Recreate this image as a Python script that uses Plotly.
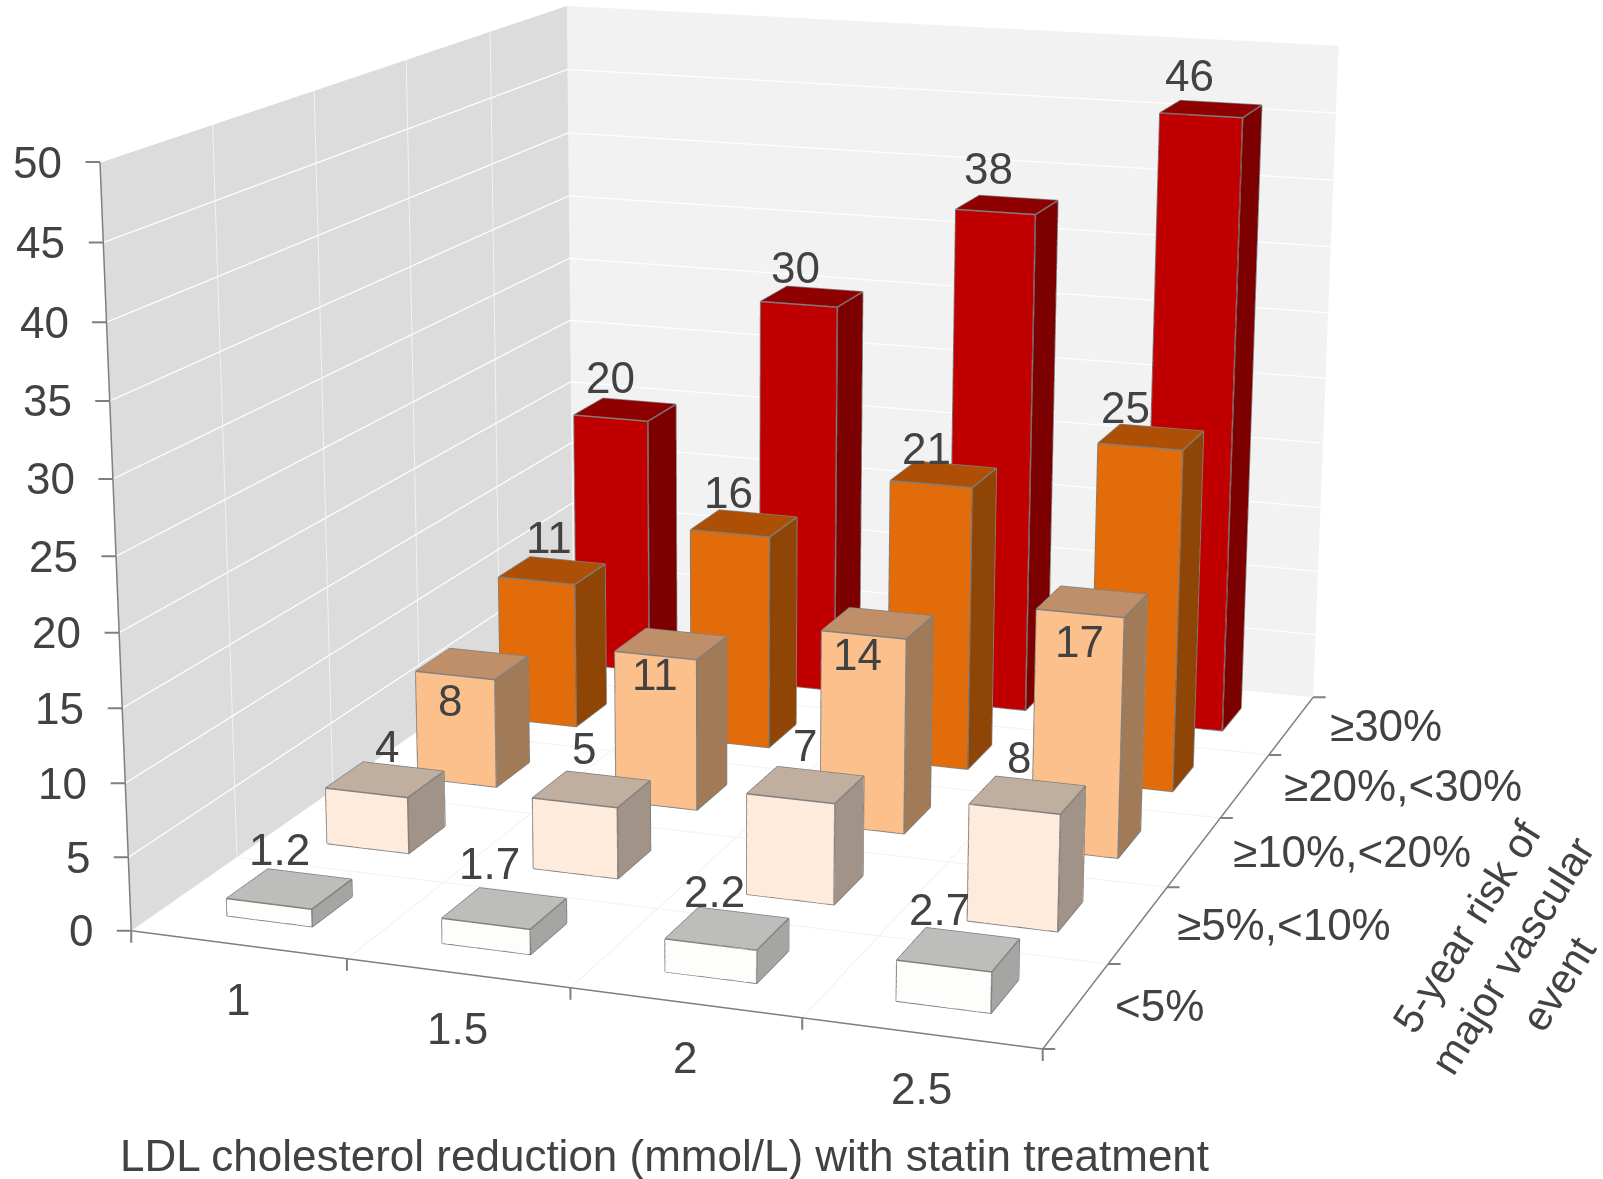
import numpy as np
import plotly.graph_objects as go

ldl_labels = ["1", "1.5", "2", "2.5"]
risk_labels = ["<5%", "≥5%,<10%", "≥10%,<20%", "≥20%,<30%", "≥30%"]
risk_lt5 = [1.2, 1.7, 2.2, 2.7]
risk_5_10 = [4, 5, 7, 8]
risk_10_20 = [8, 11, 14, 17]
risk_20_30 = [11, 16, 21, 25]
risk_ge30 = [20, 30, 38, 46]
z_ticks = list(range(0, 55, 5))
series = [risk_lt5, risk_5_10, risk_10_20, risk_20_30, risk_ge30]
# (front, top, side) colours per risk band
fills = [("#fdfdfb", "#bdbdbb", "#a5a5a3"), ("#ffebdc", "#c0ae9f", "#a19388"),
         ("#fcc08c", "#bf8f69", "#a17a58"), ("#e36c0a", "#ad5005", "#8f4505"),
         ("#c00000", "#8f0000", "#7c0000")]
# value label offsets in pixels (right, up) per risk band and LDL group
label_shifts = [
    [(-10, 39), (-15, 45), (-13, 37), (-19, 40)],
    [(2, 33), (-8, 41), (-1, 39), (-9, 38)],
    [(-22, -37), (-16, -31), (-20, -31), (-13, -40)],
    [(-3, 33), (-16, 31), (-17, 26), (-26, 30)],
    [(-15, 32), (-16, 29), (-19, 36), (-22, 34)],
]

W, H = 1603, 1179
FOCAL = 4195.6
FOVY = 2 * np.arctan((H / 2) / FOCAL)
ROT = np.array([-1.2872, -0.2099, -0.2846])
TRANS = np.array([-0.0381, 0.1792, -5.7796])
ASPECT = dict(x=1.2184, y=1.5266, z=1.0)
AXIS_GREY = "#7f7f7f"
GRID_PALE = "#f3f3ea"


def rotation(r):
    th = np.linalg.norm(r)
    k = r / th
    K = np.array([[0, -k[2], k[1]], [k[2], 0, -k[0]], [-k[1], k[0], 0]])
    return np.eye(3) + np.sin(th) * K + (1 - np.cos(th)) * K @ K


R = rotation(ROT)
eye_v = -R.T @ TRANS
center_v = eye_v + R.T @ np.array([0, 0, -5.0])
up_v = R.T @ np.array([0, 1.0, 0])

nx, ny, zmax = len(ldl_labels), len(risk_labels), z_ticks[-1]


def polyline(segments, color, width):
    xs, ys, zs = [], [], []
    for seg in segments:
        for p in seg:
            xs.append(p[0]); ys.append(p[1]); zs.append(p[2])
        xs.append(None); ys.append(None); zs.append(None)
    return go.Scatter3d(x=xs, y=ys, z=zs, mode="lines", line=dict(color=color, width=width),
                        hoverinfo="skip", showlegend=False)


fig = go.Figure()
# grid on the two walls and the floor
fig.add_trace(polyline([[(0, 0, v), (0, ny, v), (nx, ny, v)] for v in z_ticks[1:]], "#ffffff", 2.5))
fig.add_trace(polyline([[(i, 0, 0), (i, ny, 0), (i, ny, zmax)] for i in range(1, nx)] +
                       [[(nx, j, 0), (0, j, 0), (0, j, zmax)] for j in range(1, ny)], GRID_PALE, 2))

for si, (vals, cols) in enumerate(zip(series, fills)):
    for xi, v in enumerate(vals):
        x0, x1 = xi + 0.3, xi + 0.7
        y0, y1 = si + 0.3, si + 0.7
        X = [x0, x1, x1, x0, x0, x1, x1, x0]
        Y = [y0, y0, y1, y1, y0, y0, y1, y1]
        Z = [0, 0, 0, 0, v, v, v, v]
        I = [0, 0, 1, 1, 4, 4, 3, 3, 0, 0]
        J = [1, 5, 2, 6, 5, 6, 2, 6, 3, 7]
        K = [5, 4, 6, 5, 6, 7, 6, 7, 7, 4]
        fc = [cols[0]] * 2 + [cols[2]] * 2 + [cols[1]] * 2 + [cols[0]] * 4
        fig.add_trace(go.Mesh3d(x=X, y=Y, z=Z, i=I, j=J, k=K, facecolor=fc, flatshading=True,
                                lighting=dict(ambient=1, diffuse=0, specular=0, fresnel=0, roughness=1),
                                hoverinfo="skip", showscale=False))
        # outline of the visible edges
        fig.add_trace(polyline([
            [(x0, y0, v), (x1, y0, v), (x1, y1, v), (x0, y1, v), (x0, y0, v)],
            [(x0, y0, 0), (x1, y0, 0), (x1, y1, 0)],
            [(x0, y0, 0), (x0, y0, v)], [(x1, y0, 0), (x1, y0, v)], [(x1, y1, 0), (x1, y1, v)],
        ], AXIS_GREY, 3))

# the three axis lines
fig.add_trace(polyline([[(0, 0, 0), (0, 0, zmax)], [(0, 0, 0), (nx, 0, 0), (nx, ny, 0)]], AXIS_GREY, 3))

TXT = "#424242"
FS = 44
FONT = dict(family="Liberation Sans", size=FS, color=TXT)
ann = []


def tick(x, y, z, ax, ay):
    ann.append(dict(x=x, y=y, z=z, text=" ", showarrow=True, arrowhead=0, arrowwidth=2, arrowcolor=AXIS_GREY,
                    ax=ax, ay=ay, standoff=0, borderpad=0, font=dict(size=1)))


for v in z_ticks:
    tick(0, 0, v, -15, 0)
    ann.append(dict(x=0, y=0, z=v, text=str(v), xanchor="right", yanchor="middle", showarrow=False, xshift=-36, font=FONT))
for i in range(nx + 1):
    tick(i, 0, 0, 0, 13)
for i in range(ny + 1):
    tick(nx, i, 0, 13, 0)
for i, t in enumerate(ldl_labels):
    ann.append(dict(x=i + 0.5, y=0, z=0, text=t, xanchor="center", yanchor="middle", showarrow=False, yshift=-55, font=FONT))
for i, t in enumerate(risk_labels):
    ann.append(dict(x=nx, y=i + 0.5, z=0, text=t, xanchor="left", yanchor="middle", showarrow=False, xshift=37, font=FONT))
for si, vals in enumerate(series):
    for xi, v in enumerate(vals):
        dx, dy = label_shifts[si][xi]
        ann.append(dict(x=xi + 0.5, y=si + 0.5, z=v, text=str(v), showarrow=False, xanchor="center", yanchor="middle",
                        xshift=dx, yshift=dy, font=FONT))

axis = dict(showline=False, ticks="", showgrid=False, showticklabels=False, showspikes=False,
            title=dict(text=""), zeroline=False, showbackground=True)
fig.update_layout(
    width=W, height=H, margin=dict(l=0, r=0, t=0, b=0), paper_bgcolor="white", showlegend=False,
    scene=dict(
        domain=dict(x=[0, 1], y=[0, 1]), aspectmode="manual", aspectratio=ASPECT,
        camera=dict(eye=dict(x=eye_v[0], y=eye_v[1], z=eye_v[2]),
                    center=dict(x=center_v[0], y=center_v[1], z=center_v[2]),
                    up=dict(x=up_v[0], y=up_v[1], z=up_v[2]),
                    projection=dict(type="perspective")),
        xaxis=dict(axis, range=[0, nx], backgroundcolor="#dcdcdc"),
        yaxis=dict(axis, range=[0, ny], backgroundcolor="#f2f2f2"),
        zaxis=dict(axis, range=[0, zmax], backgroundcolor="#ffffff"),
        annotations=ann),
    annotations=[
        dict(xref="paper", yref="paper", x=664 / W, y=1 - 1155 / H, xanchor="center", yanchor="middle",
             text="LDL cholesterol reduction (mmol/L) with statin treatment", showarrow=False, font=FONT),
        dict(xref="paper", yref="paper", x=1512 / W, y=1 - 955 / H, xanchor="center", yanchor="middle",
             text="5-year risk of<br>major vascular<br>event", textangle=-58, showarrow=False,
             font=dict(FONT, size=41.5)),
    ])
# narrow the field of view of the 3D scene once it exists
set_fov = """
var gd = document.getElementById('{plot_id}');
var gl = gd._fullLayout.scene._scene.glplot;
gl.fovy = %f;
gl.redraw();
""" % FOVY
fig.write_html("out.html", post_script=set_fov)
